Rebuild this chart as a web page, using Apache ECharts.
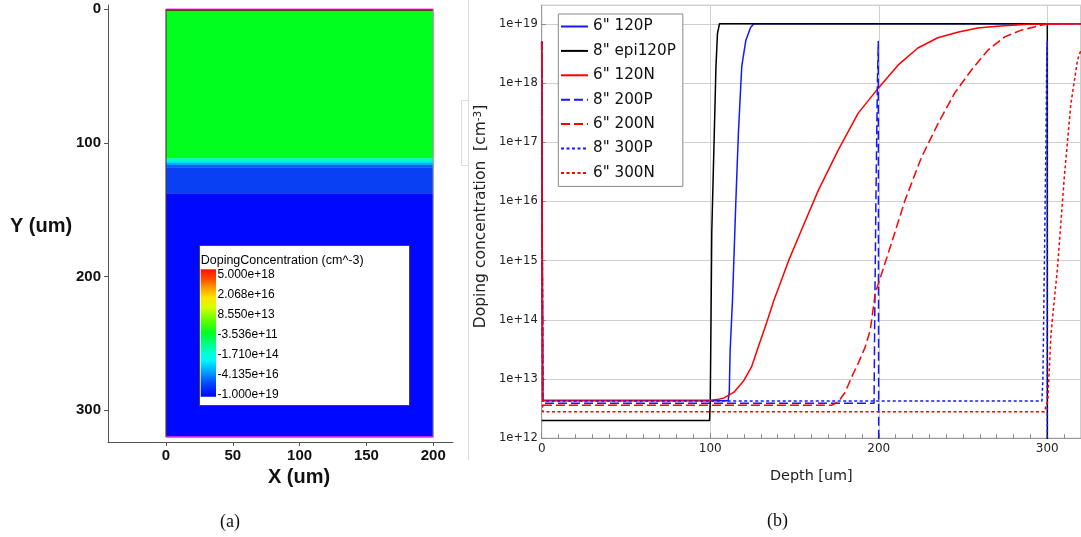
<!DOCTYPE html>
<html><head><meta charset="utf-8">
<script src="https://cdn.jsdelivr.net/npm/echarts@6/dist/echarts.min.js"></script>
<style>html,body{margin:0;padding:0;background:#fff}#c{width:1081px;height:537px}</style>
</head><body><div id="c"></div>
<script>
// ================= Panel (b): doping profiles (depth in um, doping in cm^-3) =================
const seriesNames = ['6" 120P', '8" epi120P', '6" 120N', '8" 200P', '6" 200N', '8" 300P', '6" 300N'];

const depth6_120P = [0, 0.6, 110.6, 111.3, 111.8, 113.2, 115.2, 116.7, 118.7, 121.1, 124.0, 126.0, 320];
const dop6_120P   = [5e18, 4.3e12, 4.3e12, 6e12, 3e13, 2.1e14, 1e16, 1.4e17, 1.9e18, 5.2e18, 8.7e18, 1e19, 1e19];

const depth8_epi120P = [0, 99.6, 100.0, 100.4, 100.9, 102.4, 103.4, 104.3, 105.5, 300, 300.05];
const dop8_epi120P   = [2e12, 2e12, 4e12, 6e13, 2.9e15, 1.4e17, 1.9e18, 6.9e18, 1e19, 1e19, 1e10];

const depth6_120N = [0, 0.6, 100, 104, 108.2, 114.1, 120, 124.5, 128.8, 133.2, 137.7, 146.5, 155.4, 164.2, 176, 187.8, 199.6, 211.4, 223.2, 235, 246.8, 258.6, 270.4, 288, 320];
const dop6_120N   = [5e18, 4.4e12, 4.4e12, 4.5e12, 4.8e12, 6e12, 9.5e12, 1.6e13, 3.7e13, 8.5e13, 2.1e14, 1e15, 4e15, 1.55e16, 7.4e16, 3.1e17, 8.1e17, 2e18, 3.9e18, 5.8e18, 7.2e18, 8.5e18, 9.1e18, 9.8e18, 1e19];

const depth8_200P = [0, 0.6, 197.2, 197.6, 198.3, 199.2, 199.7, 200, 200.02];
const dop8_200P   = [5e18, 3.9e12, 3.9e12, 1e14, 1e16, 1e18, 5e18, 5e18, 1e10];

const depth6_200N = [0, 0.6, 172, 176.2, 180.1, 184, 188, 192, 195, 197.9, 205.7, 215.6, 225.4, 235.3, 245.1, 255, 264.8, 274.7, 284.5, 294.3, 300, 320];
const dop6_200N   = [5e18, 3.6e12, 3.6e12, 4.2e12, 6e12, 1.1e13, 1.9e13, 3.5e13, 6.8e13, 2.8e14, 1.35e15, 1.05e16, 5.6e16, 2.1e17, 6.8e17, 1.66e18, 3.6e18, 6e18, 7.8e18, 9.1e18, 1e19, 1e19];

const depth8_300P = [0, 0.6, 296.8, 297.4, 298.3, 299.2, 299.7, 300, 300.02];
const dop8_300P   = [5e18, 4.25e12, 4.25e12, 1e13, 1e15, 1e17, 3e18, 5e18, 1e10];

const depth6_300N = [0, 0.6, 298.3, 300.3, 302.2, 306.1, 310.1, 314, 318, 320];
const dop6_300N   = [5e18, 2.8e12, 2.8e12, 4.4e12, 5.9e13, 7.8e14, 2.6e16, 4.5e17, 2.5e18, 3.6e18];

// ================= Panel (a): device cross-section layers (um) =================
const deviceX = [0, 200];
const deviceDepth = [0, 320];
const layerTop    = [0,   1.3,   111.6, 113.4, 114.9, 116.6, 118.4, 137.9];
const layerBottom = [1.3, 111.6, 113.4, 114.9, 116.6, 118.4, 137.9, 320];
const xTicksA = [0, 50, 100, 150, 200];
const yTicksA = [0, 100, 200, 300];
const colorbarTitle = 'DopingConcentration (cm^-3)';
const colorbarLabels = ['5.000e+18', '2.068e+16', '8.550e+13', '-3.536e+11', '-1.710e+14', '-4.135e+16', '-1.000e+19'];

// ---- styles (kept separate from data)
const layerColors = ['#7a0000', '#00ff1e', '#00ffb4', '#00eeff', '#00a8ff', '#0062ff', '#0a40f4', '#0008ff'];
const BLUE = '#1616ff', RED = '#ff0000', BLACK = '#000000';
const seriesStyles = [
  {color: BLUE, type: 'solid'},
  {color: BLACK, type: 'solid'},
  {color: RED, type: 'solid'},
  {color: BLUE, type: [9, 4]},
  {color: RED, type: [9, 4]},
  {color: BLUE, type: [3, 2.5]},
  {color: RED, type: [3, 2.5]}
];
const depthArrays = [depth6_120P, depth8_epi120P, depth6_120N, depth8_200P, depth6_200N, depth8_300P, depth6_300N];
const dopArrays = [dop6_120P, dop8_epi120P, dop6_120N, dop8_200P, dop6_200N, dop8_300P, dop6_300N];

const FONT = 'DejaVu Sans';
const chart = echarts.init(document.getElementById('c'), null, {renderer: 'canvas'});

const lineSeries = seriesNames.map((name, k) => ({
  name: name,
  type: 'line',
  xAxisIndex: 0, yAxisIndex: 0,
  symbol: 'none',
  showSymbol: false,
  clip: true,
  smooth: false,
  lineStyle: {color: seriesStyles[k].color, type: seriesStyles[k].type, width: 1.5, join: 'round'},
  itemStyle: {color: seriesStyles[k].color},
  data: depthArrays[k].map((d, i) => [d, dopArrays[k][i]]),
  z: 3 + k
}));

const layerData = layerTop.map((t, i) => [deviceX[0], deviceX[1], t, layerBottom[i]]);

const cbStops = [
  {offset: 0, color: '#ff1000'}, {offset: 0.08, color: '#ff5000'}, {offset: 0.15, color: '#ffa000'},
  {offset: 0.22, color: '#ffe400'}, {offset: 0.30, color: '#d4ff00'}, {offset: 0.40, color: '#60ff00'},
  {offset: 0.50, color: '#00ff20'}, {offset: 0.58, color: '#00ff80'}, {offset: 0.66, color: '#00ffd4'},
  {offset: 0.72, color: '#00f4ff'}, {offset: 0.80, color: '#00a4ff'}, {offset: 0.90, color: '#0044ff'},
  {offset: 1, color: '#0000ff'}];

const option = {
  animation: false,
  backgroundColor: '#ffffff',
  grid: [
    {left: 541.7, top: 5.3, right: -3, bottom: 98.7, show: true, borderColor: '#9a9a9a', borderWidth: 1, backgroundColor: 'transparent'},
    {left: 108, top: 5, width: 345, height: 437, show: false}
  ],
  legend: {
    orient: 'vertical',
    left: 558.3, top: 14,
    padding: [4.5, 7, 5.5, 1.7],
    itemWidth: 27, itemHeight: 14, itemGap: 8.4,
    backgroundColor: '#ffffff',
    borderColor: '#8a8a8a', borderWidth: 1, borderRadius: 0,
    itemStyle: {opacity: 0},
    textStyle: {fontFamily: FONT, fontSize: 15.2, color: '#111', lineHeight: 16},
    data: seriesNames
  },
  xAxis: [
    {
      type: 'value', gridIndex: 0, min: 0, max: 320, interval: 100,
      axisLine: {show: true, onZero: false, lineStyle: {color: '#9a9a9a'}},
      axisTick: {show: true, inside: true, length: 5, lineStyle: {color: '#888'}},
      minorTick: {show: true, splitNumber: 10, length: 4, lineStyle: {color: '#888'}},
      axisLabel: {fontFamily: FONT, fontSize: 12, color: '#222', margin: 5, showMaxLabel: false},
      splitLine: {show: true, lineStyle: {color: '#cfcfcf', width: 1}},
      name: 'Depth [um]', nameLocation: 'middle', nameGap: 31,
      nameTextStyle: {fontFamily: FONT, fontSize: 14.4, color: '#222'}
    },
    {
      type: 'value', gridIndex: 1, min: -43.4, max: 214.8,
      axisLine: {show: true, onZero: false, lineStyle: {color: '#555', width: 1}},
      axisTick: {show: true, length: 4, customValues: xTicksA, lineStyle: {color: '#555'}},
      axisLabel: {customValues: xTicksA, fontFamily: 'Liberation Sans', fontWeight: 'bold', fontSize: 15, color: '#111', margin: 6},
      splitLine: {show: false}
    }
  ],
  yAxis: [
    {
      type: 'log', gridIndex: 0, logBase: 10, min: 1e12, max: 2.05e19,
      axisLine: {show: true, lineStyle: {color: '#9a9a9a'}},
      axisTick: {show: true, inside: true, length: 4, lineStyle: {color: '#888'}},
      axisLabel: {fontFamily: FONT, fontSize: 11.5, color: '#222', margin: 4, showMaxLabel: false,
        formatter: v => '1e+' + Math.round(Math.log10(v))},
      splitLine: {show: true, lineStyle: {color: '#cfcfcf', width: 1}}
    },
    {
      type: 'value', gridIndex: 1, min: -3, max: 323.7, inverse: true,
      axisLine: {show: true, onZero: false, lineStyle: {color: '#555', width: 1}},
      axisTick: {show: true, length: 4, customValues: yTicksA, lineStyle: {color: '#555'}},
      axisLabel: {customValues: yTicksA, fontFamily: 'Liberation Sans', fontWeight: 'bold', fontSize: 15, color: '#111', margin: 7},
      splitLine: {show: false}
    }
  ],
  series: lineSeries.concat([
    {
      type: 'custom', name: 'layers', xAxisIndex: 1, yAxisIndex: 1,
      encode: {x: [0, 1], y: [2, 3]},
      data: layerData,
      renderItem: function (params, api) {
        const p0 = api.coord([api.value(0), api.value(2)]);
        const p1 = api.coord([api.value(1), api.value(3)]);
        return {
          type: 'rect',
          shape: {x: p0[0], y: Math.min(p0[1], p1[1]), width: p1[0] - p0[0], height: Math.abs(p1[1] - p0[1]) + 0.3},
          style: {fill: layerColors[params.dataIndex]}
        };
      },
      z: 1
    },
    {
      type: 'custom', name: 'outline', xAxisIndex: 1, yAxisIndex: 1,
      encode: {x: [0, 1], y: [2, 3]},
      data: [[deviceX[0], deviceX[1], deviceDepth[0], deviceDepth[1]]],
      renderItem: function (params, api) {
        const p0 = api.coord([api.value(0), api.value(2)]);
        const p1 = api.coord([api.value(1), api.value(3)]);
        return {
          type: 'group',
          children: [
            {type: 'line', shape: {x1: p0[0], y1: p0[1], x2: p0[0], y2: p1[1]}, style: {stroke: '#444', lineWidth: 1.2}},
            {type: 'line', shape: {x1: p1[0], y1: p0[1], x2: p1[0], y2: p1[1]}, style: {stroke: '#999', lineWidth: 1.2}},
            {type: 'line', shape: {x1: p0[0], y1: p0[1], x2: p1[0], y2: p0[1]}, style: {stroke: '#ff30ff', lineWidth: 1.2}},
            {type: 'line', shape: {x1: p0[0], y1: p1[1], x2: p1[0], y2: p1[1]}, style: {stroke: '#ff30ff', lineWidth: 1.5}}
          ]
        };
      },
      z: 2
    }
  ]),
  graphic: [
    // faint artifacts between panels
    {type: 'line', shape: {x1: 468.5, y1: 0, x2: 468.5, y2: 460}, style: {stroke: '#dcdcdc', lineWidth: 1}, silent: true},
    {type: 'polyline', shape: {points: [[468.5, 100.5], [461.5, 100.5], [461.5, 165.5], [468.5, 165.5]]}, style: {stroke: '#dcdcdc', fill: null, lineWidth: 1}, silent: true},
    // y axis name of panel (b)
    {type: 'text', x: 481, y: 216.5, rotation: Math.PI / 2, z: 100,
      style: {text: 'Doping concentration  [cm{s|-3}]', fontFamily: FONT, fontSize: 15.5, fill: '#222',
        align: 'center', verticalAlign: 'middle',
        rich: {s: {fontFamily: FONT, fontSize: 10.5, fill: '#222', verticalAlign: 'top', lineHeight: 15, padding: [0, 0, 6, 0]}}}},
    // panel (a) axis names
    {type: 'text', x: 41, y: 226, z: 100, style: {text: 'Y (um)', fontFamily: 'Liberation Sans', fontWeight: 'bold', fontSize: 20, fill: '#111', align: 'center', verticalAlign: 'middle'}},
    {type: 'text', x: 299, y: 477, z: 100, style: {text: 'X (um)', fontFamily: 'Liberation Sans', fontWeight: 'bold', fontSize: 20, fill: '#111', align: 'center', verticalAlign: 'middle'}},
    // captions
    {type: 'text', x: 230, y: 522.5, z: 100, style: {text: '(a)', fontFamily: 'Liberation Serif', fontSize: 18, fill: '#111', align: 'center', verticalAlign: 'middle'}},
    {type: 'text', x: 777.5, y: 521.5, z: 100, style: {text: '(b)', fontFamily: 'Liberation Serif', fontSize: 18, fill: '#111', align: 'center', verticalAlign: 'middle'}},
    // colorbar legend box of panel (a)
    {type: 'rect', z: 100, shape: {x: 199.5, y: 245.5, width: 210, height: 160}, style: {fill: '#fff', stroke: '#444', lineWidth: 1}},
    {type: 'text', z: 101, x: 200.7, y: 261, style: {text: colorbarTitle, fontFamily: 'Liberation Sans', fontSize: 12.5, fill: '#000', align: 'left', verticalAlign: 'middle'}},
    {type: 'rect', z: 101, shape: {x: 200.7, y: 269.3, width: 15.3, height: 127.4},
      style: {fill: new echarts.graphic.LinearGradient(0, 0, 0, 1, cbStops)}}
  ].concat(colorbarLabels.map((t, i) => ({
    type: 'text', z: 101, x: 217.5, y: 274.3 + i * 20.1,
    style: {text: t, fontFamily: 'Liberation Sans', fontSize: 12, fill: '#000', align: 'left', verticalAlign: 'middle'}
  })))
};
chart.setOption(option);
</script>
</body></html>
